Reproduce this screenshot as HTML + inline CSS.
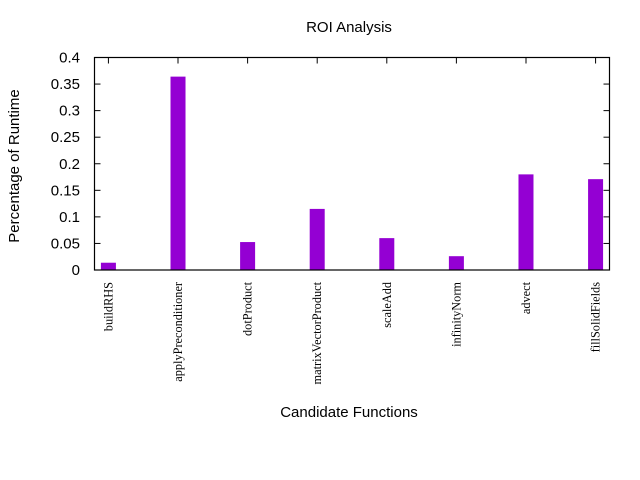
<!DOCTYPE html>
<html><head><meta charset="utf-8"><style>
body{margin:0;background:#fff}
svg{display:block}
text{font-family:"Liberation Sans",sans-serif;fill:#000}
</style></head><body>
<svg id="c" width="640" height="480">
<text x="349" y="32" font-size="15" text-anchor="middle">ROI Analysis</text>
<text x="0" y="0" font-size="15" text-anchor="middle" transform="translate(19,166) rotate(-90)">Percentage of Runtime</text>
<text x="349" y="417" font-size="15" text-anchor="middle">Candidate Functions</text>
<g id="g"></g>
</svg>
<script>
const categories=["buildRHS","applyPreconditioner","dotProduct","matrixVectorProduct","scaleAdd","infinityNorm","advect","fillSolidFields"];
const values=[0.0137,0.364,0.0526,0.115,0.060,0.026,0.180,0.171];
const yTicks=[0,0.05,0.1,0.15,0.2,0.25,0.3,0.35,0.4];
const yTickLabels=["0","0.05","0.1","0.15","0.2","0.25","0.3","0.35","0.4"];
const L=94.5,R=609.5,T=57.5,B=270;
const xs=i=>L+(i+0.2)*(R-L)/(categories.length-0.6);
const ys=v=>B-v*(B-T)/0.4;
const g=document.getElementById('g');
const NS='http://www.w3.org/2000/svg';
function mk(t,a){const e=document.createElementNS(NS,t);for(const k in a)e.setAttribute(k,a[k]);g.appendChild(e);return e;}
values.forEach((v,i)=>{
 const r=mk('rect',{x:xs(i)-7.5,y:ys(v),width:15,height:B-ys(v),fill:'#9400d3'});
 
 
 const tk=mk('line',{x1:xs(i),x2:xs(i),y1:T,y2:T+6,stroke:'#000'});
 
 
 const t=mk('text',{x:0,y:0,'font-size':'12.3','text-anchor':'end',transform:`translate(${xs(i)+4},282) rotate(-90)`,style:'font-family:"Liberation Serif",serif'});
 t.textContent=categories[i];
 
 
});
yTicks.forEach((v,i)=>{
 const a=mk('line',{x1:L,x2:L+6,y1:ys(v),y2:ys(v),stroke:'#000'});
 
 
 const b=mk('line',{x1:R-6,x2:R,y1:ys(v),y2:ys(v),stroke:'#000'});
 
 
 const t=mk('text',{x:80,y:ys(v)+5,'font-size':'15','text-anchor':'end'});
 t.textContent=yTickLabels[i];
 
 
});
const f=mk('rect',{x:L,y:T,width:R-L,height:B-T,fill:'none',stroke:'#000','stroke-width':1.2});


</script>
</body></html>
